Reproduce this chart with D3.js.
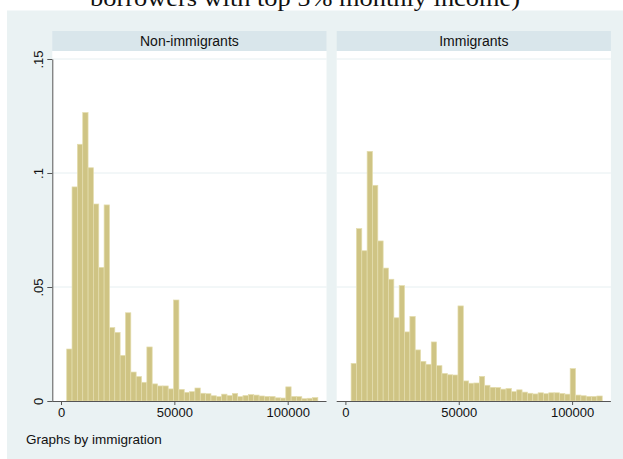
<!DOCTYPE html>
<html>
<head>
<meta charset="utf-8">
<script src="https://cdn.jsdelivr.net/npm/d3@7"></script>
<style>
  html, body { margin: 0; padding: 0; background: #ffffff; }
  svg { display: block; }
</style>
</head>
<body>
<div id="chart"></div>
<script>
// ---- data ----
const panels = ["Non-immigrants", "Immigrants"];
const binStart = 2515;      // left edge of first bin (income)
const binWidth = 2357;      // bin width (income)
const nonImmigrants = [0.0228,0.0939,0.1126,0.1265,0.1023,0.0864,0.0586,0.0860,0.0322,0.0301,
  0.0200,0.0387,0.0127,0.0107,0.0082,0.0237,0.0075,0.0066,0.0066,0.0053,
  0.0443,0.0051,0.0038,0.0041,0.0057,0.0034,0.0032,0.0023,0.0019,0.0030,
  0.0024,0.0033,0.0019,0.0024,0.0028,0.0026,0.0022,0.0020,0.0020,0.0014,
  0.0013,0.0062,0.0020,0.0019,0.0010,0.0012,0.0015];
const immigrants = [0.0165,0.0756,0.0659,0.1095,0.0946,0.0702,0.0583,0.0534,0.0365,0.0506,
  0.0303,0.0371,0.0224,0.0174,0.0161,0.0259,0.0155,0.0121,0.0115,0.0114,
  0.0417,0.0088,0.0078,0.0079,0.0108,0.0069,0.0060,0.0059,0.0052,0.0055,
  0.0041,0.0049,0.0039,0.0034,0.0031,0.0036,0.0032,0.0036,0.0036,0.0033,
  0.0030,0.0142,0.0026,0.0023,0.0020,0.0020,0.0022];
const xTicks = [0, 50000, 100000];
const yTicks = [0, 0.05, 0.1, 0.15];
const yTickLabels = ["0", ".05", ".1", ".15"];
const titleText = "borrowers with top 5% monthly income)";
const noteText = "Graphs by immigration";

const seriesList = [nonImmigrants, immigrants];

// ---- layout ----
const W = 623, H = 459;
const panelLeft = [52.3, 336.7];
const panelW = 274.2;
const headerTop = 31, headerBottom = 51;
const plotBottom = 401, yTopTickPx = 59;

const svg = d3.select("#chart").append("svg")
  .attr("width", W).attr("height", H)
  .style("font-family", "'Liberation Sans', Arial, Helvetica, sans-serif");

svg.append("rect").attr("x", 0).attr("y", 0).attr("width", W).attr("height", H).attr("fill", "#ffffff");
svg.append("rect").attr("x", 7).attr("y", 10.5).attr("width", W - 7).attr("height", H - 10.5).attr("fill", "#EAF2F3");

svg.append("text")
  .attr("x", 305).attr("y", 6)
  .attr("text-anchor", "middle")
  .attr("font-family", "'Liberation Serif', 'DejaVu Serif', serif")
  .attr("font-size", 24)
  .attr("textLength", 430).attr("lengthAdjust", "spacingAndGlyphs")
  .attr("fill", "#111")
  .text(titleText);

const x = d3.scaleLinear().domain([0, 100000]).range([61 - panelLeft[0], 287.7 - panelLeft[0]]);
const y = d3.scaleLinear().domain([0, 0.15]).range([plotBottom, yTopTickPx]);

panels.forEach((name, p) => {
  const g = svg.append("g").attr("transform", `translate(${panelLeft[p]},0)`);
  // header strip
  g.append("rect").attr("x", 0).attr("y", headerTop).attr("width", panelW)
    .attr("height", headerBottom - headerTop).attr("fill", "#D9E6EB");
  g.append("text").attr("x", panelW / 2).attr("y", 46)
    .attr("text-anchor", "middle").attr("font-size", 14).attr("fill", "#111").text(name);
  // plot area
  g.append("rect").attr("x", 0).attr("y", headerBottom).attr("width", panelW)
    .attr("height", plotBottom - headerBottom).attr("fill", "#ffffff");
  // gridlines
  g.selectAll("line.grid").data(yTicks.filter(d => d > 0)).enter().append("line")
    .attr("x1", 0).attr("x2", panelW)
    .attr("y1", d => y(d)).attr("y2", d => y(d))
    .attr("stroke", "#E6EFF1").attr("stroke-width", 1);
  // bars
  const data = seriesList[p].map((v, i) => ({ x0: binStart + i * binWidth, x1: binStart + (i + 1) * binWidth, v }));
  g.selectAll("rect.bar").data(data).enter().append("rect")
    .attr("x", d => x(d.x0)).attr("width", d => x(d.x1) - x(d.x0))
    .attr("y", d => y(d.v)).attr("height", d => y(0) - y(d.v))
    .attr("fill", "#CFC484").attr("stroke", "#E4DDAE").attr("stroke-width", 0.7);
  // x axis
  const xAxis = d3.axisBottom(x).tickValues(xTicks).tickFormat(d3.format("d")).tickSizeInner(4).tickSizeOuter(0).tickPadding(3);
  const ax = g.append("g").attr("transform", `translate(0,${plotBottom})`).call(xAxis);
  ax.select(".domain").attr("d", `M0,0.5H${panelW}`).attr("stroke", "#555").attr("stroke-width", 1);
  ax.selectAll(".tick line").attr("stroke", "#555");
  ax.selectAll(".tick text").attr("font-size", 13).attr("fill", "#111")
    .attr("font-family", "'Liberation Sans', Arial, sans-serif");
  // y axis (first panel only)
  if (p === 0) {
    const yAxis = d3.axisLeft(y).tickValues(yTicks).tickFormat((d, i) => yTickLabels[i]).tickSizeInner(5).tickSizeOuter(0).tickPadding(3);
    const ay = g.append("g").call(yAxis);
    ay.select(".domain").attr("stroke", "#555");
    ay.selectAll(".tick line").attr("stroke", "#555");
    ay.selectAll(".tick text")
      .attr("font-size", 13).attr("fill", "#111")
      .attr("font-family", "'Liberation Sans', Arial, sans-serif")
      .attr("text-anchor", "middle").attr("dy", null)
      .attr("x", null)
      .attr("transform", "translate(-9,0) rotate(-90)");
  }
});

svg.append("text").attr("x", 26).attr("y", 444).attr("font-size", 13.5).attr("fill", "#111").text(noteText);
</script>
</body>
</html>
